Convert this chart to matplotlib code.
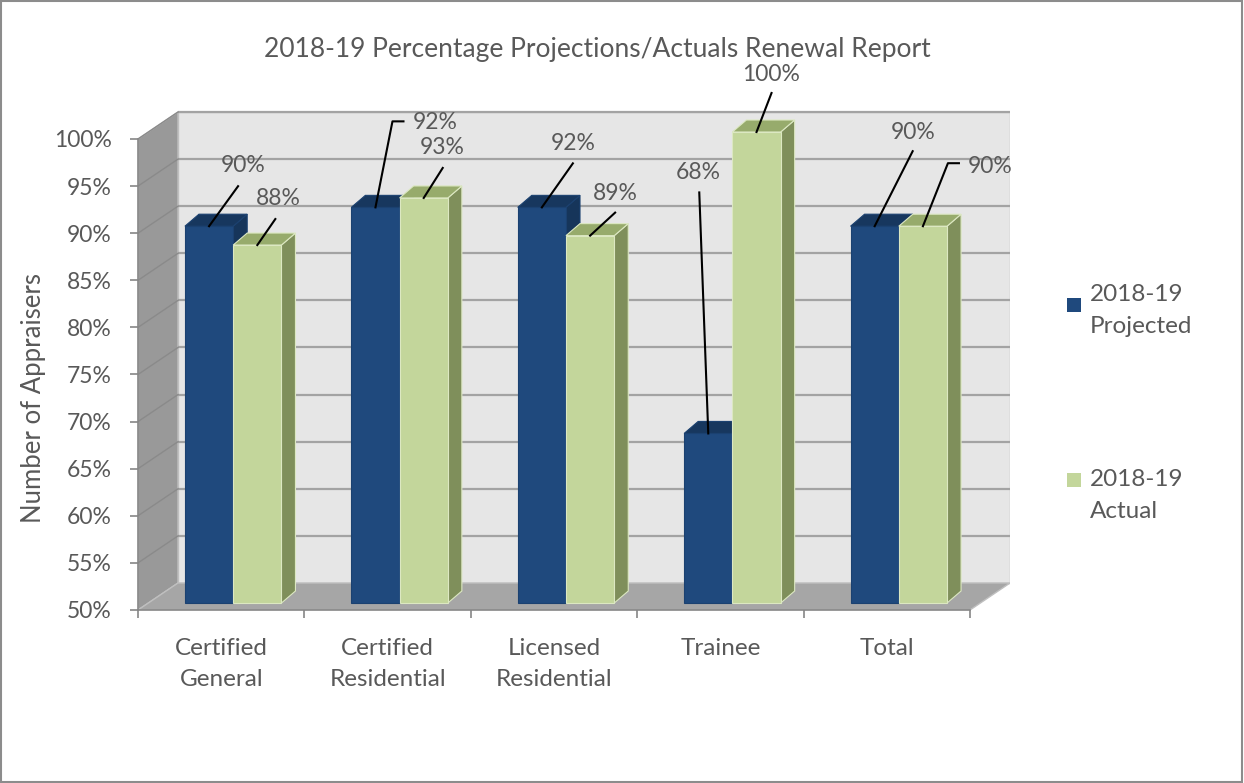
import numpy as np
import matplotlib.pyplot as plt
from matplotlib.patches import Polygon, Rectangle

# data
categories = ['Certified\nGeneral', 'Certified\nResidential', 'Licensed\nResidential', 'Trainee', 'Total']
series_names = ['2018-19\nProjected', '2018-19\nActual']
projected = [90, 92, 92, 68, 90]
actual = [88, 93, 89, 100, 90]
yticks = [50, 55, 60, 65, 70, 75, 80, 85, 90, 95, 100]

# label layout (pixel offsets from bar top: text, leader end, elbow)
proj_layout = [(34, 61, 29, 40, 0), (60, 85, 17, 86, 11), (31, 64, 31, 44, 0),
               (-10, 261, -9, 241, 0), (38, 94, 38, 75, 0)]
act_layout = [(21, 47, 18, 26, 0), (18, 50, 19, 30, 0), (25, 42, 25, 23, 0),
              (15, 57, 15, 39, 0), (67, 60, 25, 63, 11)]

FONT = 'Lato'
TXT = '#595959'
plt.rcParams['font.family'] = [FONT, 'DejaVu Sans']

W, H = 1244, 783
fig = plt.figure(figsize=(W / 100, H / 100), dpi=100)
ax = fig.add_axes([138 / W, 1 - 610 / H, (1010 - 138) / W, (610 - 110) / H])

# geometry of the fake 3d
px_x = 166.4          # pixels per category
px_y = 9.42           # pixels per percent
bx, by = 40 / px_x, 27 / px_y     # back wall offset
ox, oy = 12 / px_x, 7 / px_y      # bar front plane offset
dx, dy = 14 / px_x, 12 / px_y     # bar depth
bw = 0.29

ax.set_xlim(-0.5, -0.5 + 872 / px_x)
ax.set_ylim(50, 50 + 500 / px_y)

# walls and floor
ax.add_patch(Rectangle((-0.5 + bx, 50 + by), 5, 50, facecolor='#E6E6E6',
                       edgecolor='#BFBFBF', lw=1, zorder=0))
ax.add_patch(Polygon([(-0.5, 50), (-0.5 + bx, 50 + by), (-0.5 + bx, 100 + by), (-0.5, 100)],
                     facecolor='#999999', edgecolor='#BFBFBF', lw=1, zorder=0))
ax.add_patch(Polygon([(-0.5, 50), (4.5, 50), (4.5 + bx, 50 + by), (-0.5 + bx, 50 + by)],
                     facecolor='#A6A6A6', edgecolor='#BFBFBF', lw=1, zorder=0))
for g in yticks[1:]:
    ax.plot([-0.5 + bx, 4.5 + bx], [g + by, g + by], color='#A3A3A3', lw=1.6, zorder=1,
            solid_capstyle='butt')
    ax.plot([-0.5, -0.5 + bx], [g, g + by], color='#8A8A8A', lw=1, zorder=1)


def bar3d(xl, v, front, top, side, edge):
    xr = xl + bw
    x0, x1 = xl + ox, xr + ox
    y0, y1 = 50 + oy, v + oy
    ax.add_patch(Polygon([(x1, y0), (x1 + dx, y0 + dy), (x1 + dx, y1 + dy), (x1, y1)],
                         facecolor=side, edgecolor=edge, lw=0.8, zorder=2))
    ax.add_patch(Polygon([(x0, y1), (x1, y1), (x1 + dx, y1 + dy), (x0 + dx, y1 + dy)],
                         facecolor=top, edgecolor=edge, lw=0.8, zorder=2))
    ax.add_patch(Rectangle((x0, y0), bw, v - 50, facecolor=front, edgecolor=edge,
                           lw=0.8, zorder=2))
    return (x0 + x1) / 2, y1


def label(anchor, v, lay):
    tx, ty, lx, ly, el = lay
    ax_, ay_ = anchor
    sx = 1 / px_x
    sy = 1 / px_y
    xs = [ax_, ax_ + lx * sx]
    ys = [ay_, ay_ + ly * sy]
    if el:
        xs.append(ax_ + (lx + el) * sx)
        ys.append(ay_ + ly * sy)
    ax.plot(xs, ys, color='black', lw=1.5, zorder=5, clip_on=False)
    ax.text(ax_ + tx * sx, ay_ + ty * sy, f'{v}%', ha='center', va='center',
            fontsize=16.5, color=TXT, zorder=6, clip_on=False)


for i in range(len(categories)):
    a1 = bar3d(i - bw, projected[i], '#1F497D', '#17375E', '#16355A', '#1B4170')
    a2 = bar3d(i, actual[i], '#C3D69B', '#97AB6C', '#7F8F5B', '#DCE8C2')
    label(a1, projected[i], proj_layout[i])
    label(a2, actual[i], act_layout[i])

# axes
for s in ['top', 'right']:
    ax.spines[s].set_visible(False)
ax.spines['left'].set_bounds(50, 100)
ax.spines['bottom'].set_bounds(-0.5, 4.5)
for s in ['left', 'bottom']:
    ax.spines[s].set_color('#868686')
    ax.spines[s].set_linewidth(1.2)
    ax.spines[s].set_zorder(3)
ax.set_yticks(yticks)
ax.set_yticklabels([f'{t}%' for t in yticks])
ax.set_xticks(np.arange(-0.5, 5, 1))
ax.set_xticklabels([])
ax.set_xticks(range(len(categories)), minor=True)
ax.set_xticklabels(categories, minor=True)
ax.tick_params(axis='y', length=6, width=1.2, color='#868686', pad=13, labelsize=16.5,
               labelcolor=TXT)
ax.tick_params(axis='x', which='major', length=6, width=1.2, color='#868686')
ax.tick_params(axis='x', which='minor', length=0, pad=20, labelsize=17.5, labelcolor=TXT)
for t in ax.get_xticklabels(minor=True):
    t.set_linespacing(1.62)
ax.set_ylabel('Number of Appraisers', fontsize=18.5, color=TXT)
ax.yaxis.set_label_coords(-(138 - 46) / 872, (610 - 398) / 500)
ax.patch.set_visible(False)

fig.text(597 / W, 1 - 50 / H, '2018-19 Percentage Projections/Actuals Renewal Report',
         ha='center', va='center', fontsize=19, color=TXT)

# legend
for name, col, ysq, ytx in zip(series_names, ['#1F497D', '#C3D69B'], [305, 480], [296, 481]):
    fig.patches.append(Rectangle((1067 / W, 1 - (ysq + 7) / H), 14 / W, 14 / H,
                                 transform=fig.transFigure, facecolor=col, edgecolor='none'))
    fig.text(1090 / W, 1 - (ytx - 12) / H, name, ha='left', va='top', fontsize=17.5,
             color=TXT, linespacing=1.62)

fig.patches.append(Rectangle((1 / W, 1 / H), 1 - 3 / W, 1 - 2 / H, transform=fig.transFigure,
                             fill=False, edgecolor='#8C8C8C', lw=1.5))

fig.savefig('out.png', dpi=100)
